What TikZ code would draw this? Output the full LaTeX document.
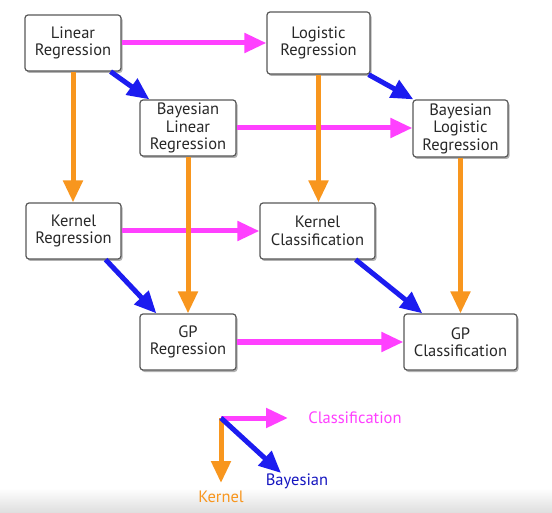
\documentclass[tikz,border=0pt]{standalone}
\usepackage{fontspec}
\setmainfont{PT Sans}
\usetikzlibrary{arrows.meta,shadows}
\definecolor{mag}{RGB}{255,64,255}
\definecolor{org}{RGB}{248,150,30}
\definecolor{blu}{RGB}{28,28,240}
\definecolor{txt}{RGB}{40,40,40}
\tikzset{
  box/.style={draw=black!65, line width=1.2pt, rounded corners=3pt, fill=white,
    align=center, font=\fontsize{16.5}{17.5}\selectfont, text=txt, inner sep=0pt,
    drop shadow={shadow xshift=1.5pt, shadow yshift=-2pt, opacity=0.3, fill=black}},
  arr/.style={line width=5pt, -{Triangle[length=22pt,width=19pt]}},
  cls/.style={arr, draw=mag},
  ker/.style={arr, draw=org},
  bay/.style={arr, draw=blu},
  lbl/.style={font=\fontsize{16.5}{17}\selectfont}
}
\begin{document}
\begin{tikzpicture}[x=1pt,y=-1pt]
\useasboundingbox (0,0) rectangle (552,513);
\fill[white] (0,0) rectangle (552,513);
\shade[top color=white, bottom color=black!13] (0,488) rectangle (552,513);

\node[box, minimum width=96pt, minimum height=56pt] (LR) at (73,43) {Linear\\Regression};
\node[box, minimum width=103pt, minimum height=62pt] (LogR) at (318.5,43) {Logistic\\Regression};
\node[box, minimum width=96pt, minimum height=56pt] (BLR) at (188,128) {Bayesian\\Linear\\Regression};
\node[box, minimum width=95pt, minimum height=57pt] (BLogR) at (460.5,128.5) {Bayesian\\Logistic\\Regression};
\node[box, minimum width=95pt, minimum height=56pt] (KR) at (73.5,231) {Kernel\\Regression};
\node[box, minimum width=115pt, minimum height=56pt] (KC) at (317.5,231) {Kernel\\Classification};
\node[box, minimum width=96pt, minimum height=56pt] (GPR) at (188,342) {GP\\Regression};
\node[box, minimum width=113pt, minimum height=56pt] (GPC) at (460.5,342) {GP\\Classification};

% classification (magenta)
\draw[cls] (LR.east) -- (LogR.west |- LR.east);
\draw[cls] (BLR.east) -- (BLogR.west |- BLR.east);
\draw[cls] (KR.east) -- (KC.west |- KR.east);
\draw[cls] (GPR.east) -- (GPC.west);
% kernel (orange)
\draw[ker] (LR.south) -- (LR.south |- KR.north);
\draw[ker] (LogR.south) -- (LogR.south |- KC.north);
\draw[ker] (BLR.south) -- (GPR.north);
\draw[ker] (BLogR.south) -- (GPC.north);
% bayesian (blue)
\draw[bay] ([xshift=-11pt]LR.south east) -- ([xshift=10pt]BLR.north west);
\draw[bay] ([xshift=-2pt]LogR.south east) -- ([xshift=1pt]BLogR.north west);
\draw[bay] ([xshift=-16pt]KR.south east) -- ([xshift=17pt]GPR.north west);
\draw[bay] ([xshift=-20pt]KC.south east) -- ([xshift=19pt]GPC.north west);

% legend
\coordinate (O) at (221,418);
\coordinate (Oc) at (288,418);
\coordinate (Ok) at (221,483);
\coordinate (Ob) at (281,473);
\draw[cls] (O) -- (Oc);
\draw[ker] (O) -- (Ok);
\draw[bay] (O) -- (Ob);
\node[lbl, text=mag] (Lc) at (355,418) {Classification};
\node[lbl, text=blu!80!black] (Lb) at (297,481) {Bayesian};
\node[lbl, text=org] (Lk) at (221,497) {Kernel};
\end{tikzpicture}
\end{document}
